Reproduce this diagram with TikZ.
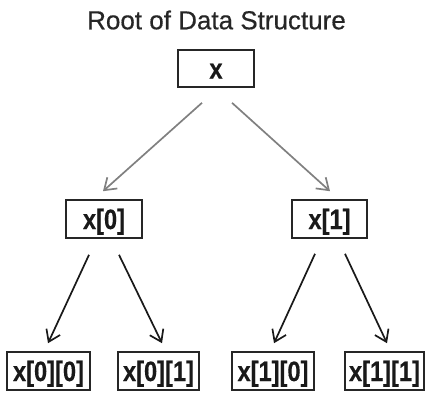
\documentclass[tikz,border=0pt]{standalone}
\usepackage{fontspec}
\setmainfont{Liberation Sans}
% narrow bold face for the box labels, slightly heavier heading face
\newfontfamily\labelfont[UprightFont={* Bold}, FakeStretch=0.845, FakeBold=0.4]{Liberation Sans}
\newfontfamily\headfont[FakeBold=0.5]{Liberation Sans}
\usetikzlibrary{calc,arrows.meta}

\tikzset{
  box/.style={draw=black!85, line width=1.6pt, inner sep=0pt, minimum height=38pt,
              text height=20pt, text depth=0pt,
              font=\labelfont\fontsize{28}{28}\selectfont, text=black!90},
  link/.style={line width=1.7pt, -{Straight Barb[length=11pt,width=15pt,line width=1.7pt]}},
  toplink/.style={link, draw=black!50},
  botlink/.style={link, draw=black!90},
  heading/.style={font=\headfont\fontsize{26}{26}\selectfont, text=black!85},
}

\begin{document}
\begin{tikzpicture}[x=1pt, y=-1pt]
  \useasboundingbox (0,0) rectangle (425,392);

  % title
  \node[heading] (title) at (216.5,20) {Root of Data Structure};

  % tree levels
  \node[box, minimum width=76pt, minimum height=37pt] (root) at (216,68.5) {x};
  \node[box, minimum width=76pt] (x0) at (104,219) {x[0]};
  \node[box, minimum width=75pt] (x1) at (329.5,219) {x[1]};

  \node[box, minimum width=83pt] (b00) at (48.5,371) {x[0][0]};
  \node[box, minimum width=81pt] (b01) at (158.5,371) {x[0][1]};
  \node[box, minimum width=82pt] (b10) at (273,371) {x[1][0]};
  \node[box, minimum width=79pt] (b11) at (384.5,371) {x[1][1]};

  % links from the root
  \draw[toplink] ($(root.south)+(-14,15)$) -- ($(x0.north)+(-1,-8)$);
  \draw[toplink] ($(root.south)+(16,15)$) -- ($(x1.north)+(0.5,-8)$);

  % links to the leaves
  \draw[botlink] ($(x0.south)+(-15,16)$) -- ($(b00.north)+(-0.5,-8)$);
  \draw[botlink] ($(x0.south)+(15,16)$) -- ($(b01.north)+(3.5,-8)$);
  \draw[botlink] ($(x1.south)+(-14.5,15)$) -- ($(b10.north)+(1,-8)$);
  \draw[botlink] ($(x1.south)+(15.5,15)$) -- ($(b11.north)+(2.5,-8)$);
\end{tikzpicture}
\end{document}
